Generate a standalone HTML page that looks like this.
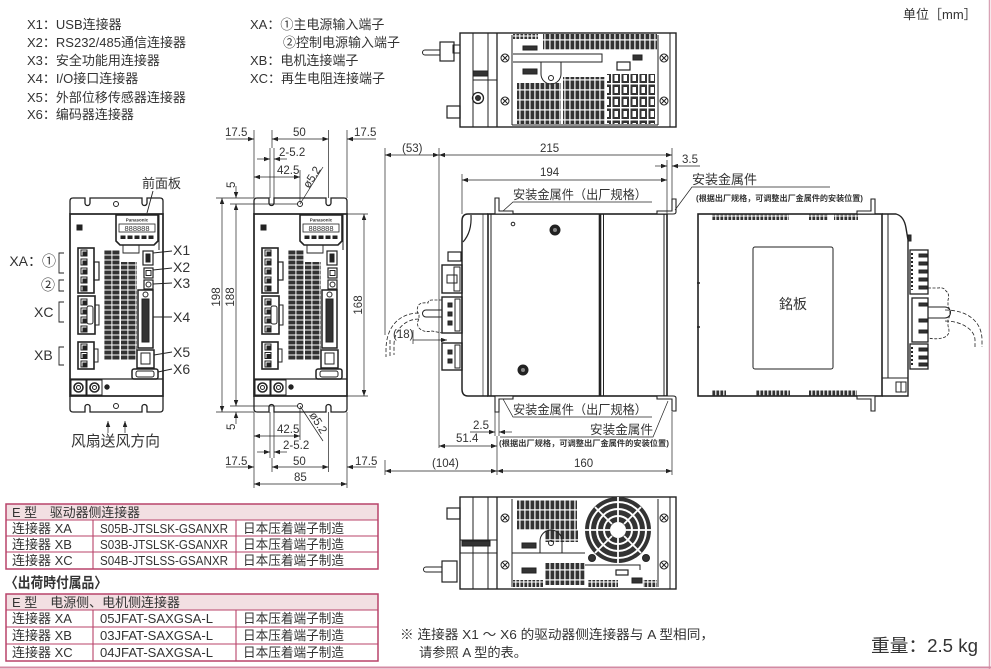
<!DOCTYPE html>
<html><head><meta charset="utf-8"><style>
html,body{margin:0;padding:0;background:#fff}
svg{display:block}
.t{font-family:"Liberation Sans","Noto Sans CJK SC",sans-serif;fill:#333}
.d{stroke:#222;stroke-width:0.7;fill:none}
.k{stroke:#222;fill:none}
</style></head><body>
<svg width="991" height="669" viewBox="0 0 991 669" xmlns="http://www.w3.org/2000/svg">
<defs>
<marker id="ar" viewBox="0 0 8 6" refX="8" refY="3" markerWidth="7" markerHeight="4.5" markerUnits="userSpaceOnUse" orient="auto-start-reverse"><path d="M0,0 L8,3 L0,6 Z" fill="#222"/></marker>
<pattern id="vg" width="8" height="5" patternUnits="userSpaceOnUse"><rect x="0.4" y="0.5" width="7" height="4" fill="#333"/></pattern>
<pattern id="vs" width="5" height="10" patternUnits="userSpaceOnUse"><rect x="0.5" y="0.5" width="3.8" height="8.8" fill="#333"/></pattern>
<pattern id="vb" width="9" height="12" patternUnits="userSpaceOnUse"><rect x="0.5" y="0.5" width="7.5" height="10.5" fill="#333"/><rect x="2.5" y="3" width="3.5" height="6" fill="#fff"/></pattern>
<pattern id="vt" width="4" height="6" patternUnits="userSpaceOnUse"><rect x="0.4" y="0.5" width="2.8" height="5" fill="#333"/></pattern>
<g id="fv" class="k">
<path stroke-width="1.3" d="M254,214 V201 Q254,198 257,198 H269 V203 A2.5,2.5 0 0 0 274,203 V198 H326 V203 A2.5,2.5 0 0 0 331,203 V198 H344 Q347,198 347,201 V214"/>
<path stroke-width="1.3" d="M254,396 V409 Q254,412 257,412 H269 V407 A2.5,2.5 0 0 1 274,407 V412 H326 V407 A2.5,2.5 0 0 1 331,407 V412 H344 Q347,412 347,409 V396"/>
<circle cx="300" cy="204" r="2.5"/>
<circle cx="300" cy="406" r="2.5"/>
<rect x="254" y="214" width="93" height="182" stroke-width="1.7"/>
<line x1="343" y1="214" x2="343" y2="250"/>
<line x1="254" y1="379" x2="347" y2="379" stroke-width="1.2"/>
<path d="M300,215 H342 V241 L338,245 H304 L300,241 Z" fill="#fff" stroke-width="1.6"/>
<rect x="303" y="224" width="36" height="8" stroke-width="0.8"/>
<rect x="305" y="236" width="4" height="2.5" fill="#222"/><rect x="312" y="236" width="4" height="2.5" fill="#222"/><rect x="319" y="236" width="4" height="2.5" fill="#222"/><rect x="326" y="236" width="4" height="2.5" fill="#222"/><rect x="333" y="236" width="4" height="2.5" fill="#222"/>
<path d="M307,245 V253 H323 V245" stroke-width="0.9"/>
<rect x="261" y="225" width="5" height="5" fill="#222"/>
<rect x="262" y="248" width="16" height="45" stroke-width="1.6"/>
<rect x="265" y="250" width="6" height="6"/><rect x="265" y="259" width="6" height="6"/><rect x="265" y="268" width="6" height="6"/><rect x="265" y="277" width="6" height="6"/><rect x="265" y="286" width="6" height="5"/>
<rect x="267" y="252" width="3" height="3" fill="#222"/><rect x="267" y="261" width="3" height="3" fill="#222"/><rect x="267" y="270" width="3" height="3" fill="#222"/><rect x="267" y="279" width="3" height="3" fill="#222"/><rect x="267" y="287" width="3" height="3" fill="#222"/>
<rect x="278" y="262" width="5" height="18" stroke-width="1.2"/>
<rect x="262" y="296" width="17" height="38" stroke-width="1.6"/>
<rect x="265" y="299" width="6" height="6"/><rect x="265" y="308" width="6" height="6"/><rect x="265" y="317" width="6" height="6"/><rect x="265" y="326" width="6" height="6"/>
<rect x="267" y="301" width="3" height="3" fill="#222"/><rect x="267" y="310" width="3" height="3" fill="#222"/><rect x="267" y="319" width="3" height="3" fill="#222"/><rect x="267" y="328" width="3" height="3" fill="#222"/>
<rect x="271" y="306" width="6" height="18" rx="2" fill="#fff"/>
<rect x="279" y="305" width="4" height="20"/>
<rect x="262" y="342" width="16" height="27" stroke-width="1.6"/>
<rect x="265" y="344" width="6" height="6"/><rect x="265" y="352.5" width="6" height="6"/><rect x="265" y="361" width="6" height="6"/>
<rect x="267" y="346" width="3" height="3" fill="#222"/><rect x="267" y="354.5" width="3" height="3" fill="#222"/><rect x="267" y="363" width="3" height="3" fill="#222"/>
<rect x="278" y="349" width="4" height="13"/>
<rect x="288" y="250" width="16" height="110" fill="url(#vg)" stroke="none"/>
<rect x="305" y="262" width="16" height="98" fill="url(#vg)" stroke="none"/>
<rect x="327" y="251" width="10" height="14" stroke-width="1.2"/><rect x="330" y="254" width="4" height="8" fill="#222"/>
<rect x="328" y="268" width="9" height="10" stroke-width="1.2"/><rect x="330" y="270.5" width="5" height="5"/>
<rect x="328" y="280" width="9" height="9" stroke-width="1.2"/><circle cx="332.5" cy="284.5" r="2.5"/>
<rect x="322" y="290" width="15" height="58" stroke-width="1.5"/>
<rect x="326" y="299" width="7" height="43" fill="#333"/>
<circle cx="329.5" cy="294.5" r="2.5"/>
<rect x="321" y="350" width="17" height="18" stroke-width="1.5"/><rect x="325" y="353" width="9" height="11"/>
<rect x="316" y="369" width="26" height="10" rx="2" stroke-width="1.5"/><rect x="320" y="371" width="18" height="6" rx="2"/>
<rect x="255" y="380" width="15" height="15"/><circle cx="262.5" cy="387.5" r="4.5" stroke-width="1.6"/><circle cx="262.5" cy="387.5" r="2"/>
<rect x="271" y="380" width="15" height="15"/><circle cx="278.5" cy="387.5" r="4.5" stroke-width="1.6"/><circle cx="278.5" cy="387.5" r="2"/>
<circle cx="291" cy="387" r="2.2" fill="#222"/>
</g>
</defs>

<!-- Legend -->
<g class="t" font-size="13">
<text x="27" y="29">X1：USB连接器</text>
<text x="27" y="47">X2：RS232/485通信连接器</text>
<text x="27" y="65">X3：安全功能用连接器</text>
<text x="27" y="83">X4：I/O接口连接器</text>
<text x="27" y="102">X5：外部位移传感器连接器</text>
<text x="27" y="119">X6：编码器连接器</text>
<text x="250" y="29">XA：①主电源输入端子</text>
<text x="283" y="47">②控制电源输入端子</text>
<text x="250" y="65">XB：电机连接端子</text>
<text x="250" y="83">XC：再生电阻连接端子</text>
<text x="903" y="19">单位［mm］</text>
</g>

<!-- Front views -->
<use href="#fv" x="-184"/>
<use href="#fv"/>
<g class="t" font-size="4.5" font-weight="bold"><text x="321" y="221.5" text-anchor="middle">Panasonic</text><text x="137" y="221.5" text-anchor="middle">Panasonic</text></g>
<g class="t" font-size="7.5" font-family="Liberation Mono,monospace"><text x="321" y="231" text-anchor="middle">888888</text><text x="137" y="231" text-anchor="middle">888888</text></g>

<!-- left view labels -->
<g class="t">
<text x="142" y="188" font-size="13">前面板</text>
<text x="56" y="266" font-size="14" text-anchor="end">XA：①</text>
<text x="41" y="290" font-size="14">②</text>
<text x="34" y="317" font-size="14">XC</text>
<text x="34" y="360" font-size="14">XB</text>
<text x="173" y="255" font-size="14">X1</text>
<text x="173" y="272" font-size="14">X2</text>
<text x="173" y="288" font-size="14">X3</text>
<text x="173" y="322" font-size="14">X4</text>
<text x="173" y="357" font-size="14">X5</text>
<text x="173" y="374" font-size="14">X6</text>
<text x="71" y="446" font-size="15" textLength="89" lengthAdjust="spacingAndGlyphs">风扇送风方向</text>
</g>
<g class="k" stroke-width="0.9">
<path d="M153,191 L147,213"/>
<path d="M64,253 H59 V273 H64"/><path d="M64,280 H59 V291 H64"/><path d="M64,302 H59 V322 H64"/><path d="M64,347 H59 V365 H64"/>
<path d="M153,253 L172,251"/><path d="M153,270 L172,268"/><path d="M153,284 L172,283"/><path d="M153,317 L172,317"/><path d="M154,355 L172,352"/><path d="M158,372 L172,369"/>
</g>
<line class="d" x1="108" y1="433" x2="108" y2="421" marker-end="url(#ar)"/>
<line class="d" x1="125" y1="433" x2="125" y2="421" marker-end="url(#ar)"/>

<!-- Middle dimensions -->
<g class="d">
<line x1="254" y1="130" x2="254" y2="198"/><line x1="347" y1="130" x2="347" y2="198"/>
<line x1="270" y1="148" x2="270" y2="198"/><line x1="274" y1="148" x2="274" y2="198"/>
<line x1="272" y1="130" x2="272" y2="148"/><line x1="328.5" y1="130" x2="328.5" y2="198"/>
<line x1="300" y1="170" x2="300" y2="202"/>
<line x1="254" y1="412" x2="254" y2="488"/><line x1="347" y1="412" x2="347" y2="488"/>
<line x1="270" y1="412" x2="270" y2="458"/><line x1="274" y1="412" x2="274" y2="458"/>
<line x1="272" y1="458" x2="272" y2="472"/><line x1="328.5" y1="412" x2="328.5" y2="472"/>
<line x1="300" y1="408" x2="300" y2="440"/>
<line x1="216" y1="198" x2="254" y2="198"/><line x1="230" y1="204" x2="298" y2="204"/>
<line x1="216" y1="412" x2="254" y2="412"/><line x1="230" y1="406" x2="298" y2="406"/>
<line x1="347" y1="214" x2="368" y2="214"/><line x1="347" y1="396" x2="368" y2="396"/>
<line x1="226" y1="139" x2="254" y2="139" marker-end="url(#ar)"/>
<line x1="272" y1="139" x2="328.5" y2="139" marker-start="url(#ar)" marker-end="url(#ar)"/>
<line x1="376" y1="139" x2="347" y2="139" marker-end="url(#ar)"/>
<line x1="257" y1="159" x2="270" y2="159" marker-end="url(#ar)"/>
<line x1="287" y1="159" x2="274" y2="159" marker-end="url(#ar)"/>
<line x1="254" y1="177" x2="300" y2="177" marker-start="url(#ar)" marker-end="url(#ar)"/>
<line x1="236" y1="186" x2="236" y2="198" marker-end="url(#ar)"/>
<line x1="222" y1="198" x2="222" y2="412" marker-start="url(#ar)" marker-end="url(#ar)"/>
<line x1="236" y1="204" x2="236" y2="406" marker-start="url(#ar)" marker-end="url(#ar)"/>
<line x1="364" y1="214" x2="364" y2="396" marker-start="url(#ar)" marker-end="url(#ar)"/>
<line x1="236" y1="424" x2="236" y2="412" marker-end="url(#ar)"/>
<line x1="254" y1="436" x2="300" y2="436" marker-start="url(#ar)" marker-end="url(#ar)"/>
<line x1="257" y1="452" x2="270" y2="452" marker-end="url(#ar)"/>
<line x1="287" y1="452" x2="274" y2="452" marker-end="url(#ar)"/>
<line x1="226" y1="467" x2="254" y2="467" marker-end="url(#ar)"/>
<line x1="272" y1="467" x2="328.5" y2="467" marker-start="url(#ar)" marker-end="url(#ar)"/>
<line x1="376" y1="467" x2="347" y2="467" marker-end="url(#ar)"/>
<line x1="254" y1="484" x2="347" y2="484" marker-start="url(#ar)" marker-end="url(#ar)"/>
<line x1="300" y1="204" x2="323" y2="167"/>
<line x1="300" y1="406" x2="323" y2="441"/>
</g>
<g class="t" font-size="11.5">
<text x="225" y="136">17.5</text>
<text x="293" y="136">50</text>
<text x="354" y="136">17.5</text>
<text x="279" y="156">2-5.2</text>
<text x="277" y="174">42.5</text>
<text transform="translate(309,189) rotate(-58)">ø5.2</text>
<text transform="translate(235,188) rotate(-90)">5</text>
<text transform="translate(220,297) rotate(-90)" text-anchor="middle">198</text>
<text transform="translate(234,297) rotate(-90)" text-anchor="middle">188</text>
<text transform="translate(362,305) rotate(-90)" text-anchor="middle">168</text>
<text transform="translate(235,430) rotate(-90)">5</text>
<text transform="translate(309,415) rotate(58)">ø5.2</text>
<text x="277" y="433">42.5</text>
<text x="283" y="449">2-5.2</text>
<text x="225" y="465">17.5</text>
<text x="293" y="465">50</text>
<text x="355" y="465">17.5</text>
<text x="294" y="481">85</text>
</g>

<!-- Top view -->
<g class="k">
<rect x="460" y="33" width="216" height="94" stroke-width="1.4"/>
<line x1="473" y1="33" x2="473" y2="127"/><line x1="488" y1="33" x2="488" y2="127"/>
<line x1="497" y1="33" x2="497" y2="127" stroke-width="1.3"/><line x1="512" y1="35" x2="512" y2="125"/>
<line x1="658" y1="35" x2="658" y2="125"/><line x1="670" y1="33" x2="670" y2="127"/>
<line x1="473" y1="80" x2="497" y2="80"/>
<circle cx="505" cy="58" r="4"/><path d="M502,55 L508,61 M508,55 L502,61"/>
<circle cx="505" cy="101" r="4"/><path d="M502,98 L508,104 M508,98 L502,104"/>
<circle cx="664" cy="58" r="4"/><path d="M661,55 L667,61 M667,55 L661,61"/>
<circle cx="664" cy="101" r="4"/><path d="M661,98 L667,104 M667,98 L661,104"/>
<path d="M440,50 H425 A2.5,2.5 0 0 0 425,55 H440"/>
<rect x="440" y="42" width="14" height="19" stroke-width="1.2"/><rect x="453" y="45" width="7" height="8"/>
<rect x="447" y="106" width="13" height="12" stroke-width="1.2"/>
<circle cx="478" cy="98" r="5.5" stroke-width="1.3"/><circle cx="478" cy="98" r="2.5" fill="#333"/>
<rect x="473" y="71" width="15" height="5" fill="#333"/>
<rect x="513" y="34" width="25" height="5" fill="url(#vt)" stroke="none"/>
<rect x="543" y="34" width="114" height="16" fill="url(#vs)" stroke="none"/>
<rect x="523" y="46" width="14" height="4" fill="#333"/>
<rect x="523" y="69" width="14" height="5" fill="#333"/>
<path d="M513,54 H602 V62 H513"/>
<path d="M541,62 V74 A10,10 0 0 0 561,74 V62"/>
<circle cx="551" cy="78" r="2.5"/>
<rect x="517" y="83" width="44" height="41" fill="url(#vs)" stroke="none"/>
<rect x="563" y="77" width="42" height="47" fill="url(#vs)" stroke="none"/>
<rect x="607" y="74" width="48" height="50" fill="url(#vb)" stroke="none"/>
<rect x="617" y="62" width="13" height="8" stroke-width="1.2"/><rect x="633" y="55" width="9" height="5" fill="#333"/>
<line x1="512" y1="125" x2="658" y2="125"/>
</g>

<!-- Bottom view -->
<g class="k">
<rect x="460" y="497" width="216" height="92" stroke-width="1.4"/>
<line x1="473" y1="497" x2="473" y2="589"/><line x1="488" y1="497" x2="488" y2="589"/>
<line x1="497" y1="497" x2="497" y2="589" stroke-width="1.3"/><line x1="512" y1="499" x2="512" y2="587"/>
<line x1="658" y1="499" x2="658" y2="587"/><line x1="670" y1="497" x2="670" y2="589"/>
<path d="M460,540 H497 M460,553 H497"/><rect x="462" y="541" width="28" height="5" fill="#333"/>
<circle cx="505" cy="518" r="4"/><path d="M502,515 L508,521 M508,515 L502,521"/>
<circle cx="505" cy="565" r="4"/><path d="M502,562 L508,568 M508,562 L502,568"/>
<circle cx="664" cy="518" r="4"/><path d="M661,515 L667,521 M667,515 L661,521"/>
<circle cx="664" cy="565" r="4"/><path d="M661,562 L667,568 M667,562 L661,568"/>
<path d="M442,567 H426 A2.5,2.5 0 0 0 426,572 H442"/>
<rect x="442" y="561" width="15" height="21" stroke-width="1.2"/>
<rect x="447" y="508" width="13" height="11" stroke-width="1.2"/>
<rect x="517" y="500" width="60" height="30" fill="url(#vs)" stroke="none"/>
<rect x="545" y="530" width="33" height="12" fill="url(#vs)" stroke="none"/>
<path d="M540,553 V541 A11,11 0 0 1 562,541 V553"/><circle cx="551" cy="543" r="2.5"/>
<path d="M512,553 H585"/>
<rect x="522" y="543" width="14" height="5" fill="#333"/>
<rect x="522" y="568" width="14" height="5" fill="#333"/>
<rect x="545" y="563" width="40" height="22" fill="url(#vs)" stroke="none"/>
<rect x="513" y="580" width="30" height="7" fill="url(#vt)" stroke="none"/>
<rect x="588" y="580" width="30" height="7" fill="url(#vt)" stroke="none"/>
<rect x="643" y="580" width="14" height="7" fill="url(#vt)" stroke="none"/>
<rect x="616" y="570" width="12" height="5" stroke-width="1.2"/><rect x="632" y="578" width="10" height="5" fill="#333"/>
<path d="M585,565 H640 V570"/>
<circle cx="618" cy="530" r="33" fill="#333" stroke="none"/>
<circle cx="618" cy="530" r="28" stroke="#fff" stroke-width="2"/>
<circle cx="618" cy="530" r="21" stroke="#fff" stroke-width="2"/>
<circle cx="618" cy="530" r="14" stroke="#fff" stroke-width="2"/>
<circle cx="618" cy="530" r="8" fill="#fff" stroke="none"/>
<path stroke="#fff" stroke-width="1.8" d="M618,497 V522 M618,538 V563 M585,530 H610 M626,530 H651 M595,507 L612,524 M624,536 L641,553 M641,507 L624,524 M612,536 L595,553"/>
<circle cx="592" cy="558" r="3.5" fill="#333"/><circle cx="646" cy="558" r="3.5" fill="#333"/>
</g>

<!-- Side view -->
<g class="k">
<path d="M488,214 H468 Q462,214 462,221 V389 Q462,396 468,396 H488" stroke-width="1.5"/>
<path d="M471,215 Q472,232 463,242" stroke-width="1.2"/>
<line x1="483" y1="214" x2="483" y2="396" stroke-width="0.7"/>
<rect x="488" y="214" width="179" height="182" stroke-width="1.6"/>
<line x1="491" y1="214" x2="491" y2="396"/>
<line x1="600" y1="214" x2="600" y2="396" stroke-width="2.6"/>
<line x1="603.5" y1="214" x2="603.5" y2="396"/>
<line x1="664" y1="214" x2="664" y2="396"/>
<path d="M495,198 H499 V211 H513 V214 H495 Z" fill="#fff" stroke-width="1.1"/>
<path d="M495,412 H499 V399 H513 V396 H495 Z" fill="#fff" stroke-width="1.1"/>
<path d="M657,211 H672 V199 H676 V212 Q676,214 673,214 H657 Z" fill="#fff" stroke-width="1.1"/>
<path d="M657,399 H672 V411 H676 V398 Q676,396 673,396 H657 Z" fill="#fff" stroke-width="1.1"/>
<circle cx="555" cy="230" r="5" fill="#222"/><circle cx="555" cy="230" r="2" fill="#888" stroke="none"/>
<circle cx="523" cy="370" r="5" fill="#222"/><circle cx="523" cy="370" r="2" fill="#888" stroke="none"/>
<circle cx="513" cy="224" r="1.8"/>
<rect x="448" y="252" width="13" height="9" stroke-width="1.2"/>
<rect x="442" y="265" width="20" height="28" stroke-width="1.4"/>
<rect x="447" y="275" width="10" height="8"/><rect x="454" y="267" width="6" height="24"/>
<rect x="442" y="297" width="20" height="36" stroke-width="1.4"/>
<rect x="448" y="303" width="4" height="4" fill="#333"/><rect x="448" y="312" width="4" height="4" fill="#333"/><rect x="448" y="321" width="4" height="4" fill="#333"/>
<rect x="455" y="299" width="5" height="32"/>
<rect x="442" y="343" width="20" height="27" stroke-width="1.4"/>
<rect x="448" y="350" width="4" height="4" fill="#333"/><rect x="448" y="359" width="4" height="4" fill="#333"/>
<rect x="455" y="345" width="5" height="23"/>
<path d="M442,310 H426 A3.5,3.5 0 0 0 426,317 H442"/>
<path stroke-dasharray="3,1.5" stroke-width="0.8" d="M442,300 H432 Q428,300 428,303 Q420,302 418,306 Q416,312 419,315 L419,319 Q416,324 419,328 Q424,333 432,331 L442,333"/>
<path stroke-dasharray="4,2" stroke-width="0.8" d="M419,313 C400,313 386,326 386,350 V357 M419,319 C405,319 394,330 394,345 V355 M390,340 V357"/>
</g>
<g class="d">
<line x1="385" y1="148" x2="385" y2="335"/><line x1="385" y1="460" x2="385" y2="475"/>
<line x1="439" y1="148" x2="439" y2="448"/>
<line x1="672" y1="148" x2="672" y2="199"/><line x1="672" y1="412" x2="672" y2="475"/>
<line x1="667" y1="160" x2="667" y2="214"/>
<line x1="462" y1="174" x2="462" y2="214"/>
<line x1="385" y1="155" x2="439" y2="155" marker-start="url(#ar)" marker-end="url(#ar)"/>
<line x1="439" y1="155" x2="672" y2="155" marker-start="url(#ar)" marker-end="url(#ar)"/>
<line x1="655" y1="166" x2="667" y2="166" marker-end="url(#ar)"/>
<line x1="700" y1="166" x2="672" y2="166" marker-end="url(#ar)"/>
<line x1="462" y1="180" x2="667" y2="180" marker-start="url(#ar)" marker-end="url(#ar)"/>
<line x1="413" y1="330" x2="413" y2="344"/>
<line x1="413" y1="340" x2="447" y2="340" marker-end="url(#ar)"/>
<line x1="495" y1="412" x2="495" y2="436"/><line x1="499" y1="412" x2="499" y2="436"/>
<line x1="470" y1="432" x2="495" y2="432" marker-end="url(#ar)"/>
<line x1="512" y1="432" x2="499" y2="432" marker-end="url(#ar)"/>
<line x1="497" y1="436" x2="497" y2="475"/>
<line x1="439" y1="446" x2="497" y2="446" marker-start="url(#ar)" marker-end="url(#ar)"/>
<line x1="385" y1="471" x2="497" y2="471" marker-start="url(#ar)" marker-end="url(#ar)"/>
<line x1="497" y1="471" x2="672" y2="471" marker-start="url(#ar)" marker-end="url(#ar)"/>
<path d="M503,211 L513,202 H652"/>
<path d="M503,399 L513,417 H652"/>
<path d="M500,437 H653 L668,401"/>
<path d="M675,210 L692,187 H830"/>
</g>
<g class="t" font-size="11.5">
<text x="402" y="152">(53)</text>
<text x="540" y="152">215</text>
<text x="682" y="163">3.5</text>
<text x="540" y="176">194</text>
<text x="393" y="338">(18)</text>
<text x="473" y="429">2.5</text>
<text x="456" y="442">51.4</text>
<text x="432" y="467">(104)</text>
<text x="574" y="467">160</text>
</g>
<g class="t">
<text x="513" y="199" font-size="12.5" textLength="134" lengthAdjust="spacingAndGlyphs">安装金属件（出厂规格）</text>
<text x="513" y="414" font-size="12.5" textLength="134" lengthAdjust="spacingAndGlyphs">安装金属件（出厂规格）</text>
<text x="590" y="434" font-size="12.5" textLength="63" lengthAdjust="spacingAndGlyphs">安装金属件</text>
<text x="499" y="446" font-size="8" font-weight="bold" textLength="170" lengthAdjust="spacingAndGlyphs">(根据出厂规格，可调整出厂金属件的安装位置)</text>
<text x="692" y="184" font-size="13" textLength="65" lengthAdjust="spacingAndGlyphs">安装金属件</text>
<text x="696" y="201" font-size="8" font-weight="bold" textLength="167" lengthAdjust="spacingAndGlyphs">(根据出厂规格，可调整出厂金属件的安装位置)</text>
</g>

<!-- Right view -->
<g class="k">
<rect x="698" y="214" width="184" height="182" stroke-width="1.6"/>
<line x1="888" y1="214" x2="888" y2="378"/>
<path d="M882,214 H896 Q904,216 906,228 L908,240 V396 H882" stroke-width="1.4"/>
<path d="M882,378 H908"/>
<rect x="896" y="382" width="5" height="10"/><rect x="901" y="382" width="5" height="10"/>
<rect x="908" y="235" width="3" height="6" fill="#333"/>
<rect x="712" y="214" width="77" height="6" fill="url(#vt)" stroke="none"/>
<rect x="809" y="214" width="19" height="6" fill="url(#vt)" stroke="none"/>
<rect x="834" y="214" width="24" height="6" fill="url(#vt)" stroke="none"/>
<rect x="712" y="390" width="14" height="6" fill="url(#vt)" stroke="none"/>
<rect x="756" y="390" width="34" height="6" fill="url(#vt)" stroke="none"/>
<rect x="809" y="390" width="48" height="6" fill="url(#vt)" stroke="none"/>
<rect x="753" y="247" width="80" height="122" rx="2" stroke-width="1"/>
<path d="M857,211 H871 V199 H875 V214 H857 Z" fill="#fff" stroke-width="1.1"/>
<path d="M857,399 H871 V411 H875 V396 H857 Z" fill="#fff" stroke-width="1.1"/>
<path d="M697,283 H700 M697,327 H700" stroke-width="1.5"/>
<rect x="910" y="250" width="18" height="44" stroke-width="1.3"/>
<rect x="912" y="298" width="16" height="44" stroke-width="1.3"/>
<rect x="910" y="344" width="18" height="25" stroke-width="1.3"/>
<rect x="919" y="254" width="8" height="3" fill="#333"/><rect x="919" y="262" width="8" height="3" fill="#333"/><rect x="919" y="270" width="8" height="3" fill="#333"/><rect x="919" y="278" width="8" height="3" fill="#333"/><rect x="919" y="286" width="8" height="3" fill="#333"/>
<rect x="919" y="303" width="8" height="3" fill="#333"/><rect x="919" y="319" width="8" height="3" fill="#333"/><rect x="919" y="330" width="8" height="3" fill="#333"/>
<rect x="919" y="348" width="8" height="3" fill="#333"/><rect x="919" y="356" width="8" height="3" fill="#333"/><rect x="919" y="363" width="8" height="3" fill="#333"/>
<path d="M912,253 V290 M912,347 V366" stroke-width="2" stroke-dasharray="2,2"/>
<path d="M928,307 H945 A5.5,5.5 0 0 1 945,318 H928"/>
<path stroke-dasharray="3,1.5" stroke-width="0.8" d="M928,288 H938 Q944,287 946,291 Q950,294 948,300 L948,306 Q952,312 948,320 L948,326 Q951,334 945,337 Q938,340 928,338"/>
<path stroke-dasharray="4,2" stroke-width="0.8" d="M945,310 C968,310 982,322 982,340 V347 M945,321 C962,321 975,330 975,340 V347"/>
</g>
<text class="t" x="793" y="309" font-size="14" text-anchor="middle">銘板</text>

<!-- Tables -->
<g>
<rect x="6" y="504" width="372" height="16" fill="#f2dfe2"/>
<rect x="6" y="504" width="372" height="65" fill="none" stroke="#b8436a" stroke-width="1.5"/>
<path d="M6,520 H378 M6,536 H378 M6,552 H378 M93,520 V569 M236,520 V569" stroke="#b8436a" stroke-width="1.1" fill="none"/>
<rect x="6" y="594" width="372" height="16" fill="#f2dfe2"/>
<rect x="6" y="594" width="372" height="67" fill="none" stroke="#b8436a" stroke-width="1.5"/>
<path d="M6,610 H378 M6,627 H378 M6,644 H378 M93,610 V661 M236,610 V661" stroke="#b8436a" stroke-width="1.1" fill="none"/>
</g>
<g class="t" font-size="13">
<text x="12" y="517" textLength="128" lengthAdjust="spacingAndGlyphs">E 型　驱动器侧连接器</text>
<text x="12" y="533">连接器 XA</text><text x="100" y="533" textLength="128" lengthAdjust="spacingAndGlyphs">S05B-JTSLSK-GSANXR</text><text x="243" y="533" textLength="101" lengthAdjust="spacingAndGlyphs">日本压着端子制造</text>
<text x="12" y="549">连接器 XB</text><text x="100" y="549" textLength="128" lengthAdjust="spacingAndGlyphs">S03B-JTSLSK-GSANXR</text><text x="243" y="549" textLength="101" lengthAdjust="spacingAndGlyphs">日本压着端子制造</text>
<text x="12" y="565">连接器 XC</text><text x="100" y="565" textLength="128" lengthAdjust="spacingAndGlyphs">S04B-JTSLSS-GSANXR</text><text x="243" y="565" textLength="101" lengthAdjust="spacingAndGlyphs">日本压着端子制造</text>
<text x="5" y="588" font-size="14.5" font-weight="bold" textLength="102" lengthAdjust="spacingAndGlyphs">〈出荷時付属品〉</text>
<text x="12" y="607" textLength="168" lengthAdjust="spacingAndGlyphs">E 型　电源侧、电机侧连接器</text>
<text x="12" y="623">连接器 XA</text><text x="100" y="623" textLength="113" lengthAdjust="spacingAndGlyphs">05JFAT-SAXGSA-L</text><text x="243" y="623" textLength="101" lengthAdjust="spacingAndGlyphs">日本压着端子制造</text>
<text x="12" y="640">连接器 XB</text><text x="100" y="640" textLength="113" lengthAdjust="spacingAndGlyphs">03JFAT-SAXGSA-L</text><text x="243" y="640" textLength="101" lengthAdjust="spacingAndGlyphs">日本压着端子制造</text>
<text x="12" y="657">连接器 XC</text><text x="100" y="657" textLength="113" lengthAdjust="spacingAndGlyphs">04JFAT-SAXGSA-L</text><text x="243" y="657" textLength="101" lengthAdjust="spacingAndGlyphs">日本压着端子制造</text>
<text x="400" y="639" textLength="314" lengthAdjust="spacingAndGlyphs">※ 连接器 X1 ～ X6 的驱动器侧连接器与 A 型相同，</text>
<text x="419" y="657" textLength="108" lengthAdjust="spacingAndGlyphs">请参照 A 型的表。</text>
<text x="871" y="652" font-size="18" textLength="107" lengthAdjust="spacingAndGlyphs">重量：2.5 kg</text>
</g>

<!-- pink frame -->
<line x1="989.5" y1="0" x2="989.5" y2="669" stroke="#d9a3b6" stroke-width="1.5"/>
<line x1="0" y1="667.5" x2="991" y2="667.5" stroke="#d48aa3" stroke-width="2"/>
</svg>
</body></html>
